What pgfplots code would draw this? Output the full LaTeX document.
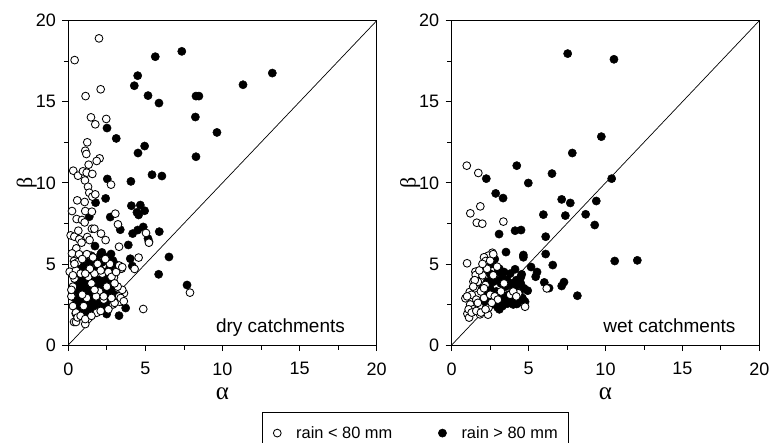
\documentclass[border=0pt]{standalone}
\usepackage{fontspec}
\setmainfont{Liberation Sans}
\newfontfamily\greekfont{Liberation Serif}
\usepackage{pgfplots}
\pgfplotsset{compat=1.18}
\pgfplotsset{panel/.style={
  scale only axis, width=308.4bp, height=324.3bp,
  anchor=south west,
  xmin=0,xmax=20,ymin=0,ymax=20,
  xtick={0,5,...,20}, ytick={0,5,...,20},
  minor tick num=1,
  tick align=outside,
  xtick pos=bottom, ytick pos=left,
  major tick length=6bp, minor tick length=4.5bp,
  every tick/.style={black, line width=0.8bp},
  axis line style={black, line width=0.9bp},
  tick label style={font=\fontsize{18bp}{20bp}\selectfont},
  xticklabel style={yshift=-8bp},
  yticklabel style={xshift=-3bp},
  /pgf/number format/assume math mode=true,
  xlabel={\greekfont α}, ylabel={\greekfont β},
  xlabel style={font=\fontsize{25bp}{26bp}\selectfont, at={(axis description cs:0.5,-0.15)}, anchor=center},
  ylabel style={font=\fontsize{22bp}{24bp}\selectfont, at={(axis description cs:-0.135,0.5)}, anchor=center},
  clip=false,
  legend image code/.code={\draw[##1] plot coordinates {(0bp,0bp)};},
}}
\tikzset{
  openmk/.style={only marks, mark=*, mark size=3.9bp, mark options={fill=white, draw=black, line width=0.85bp}},
  fullmk/.style={only marks, mark=*, mark size=4.1bp, mark options={fill=black, draw=black, line width=0.5bp}},
}
\begin{document}
\begin{tikzpicture}
\useasboundingbox (0,0) rectangle (769bp,443bp);
% ---------------- dry catchments ----------------
\begin{axis}[panel, at={(68.3bp,98bp)},
  legend columns=2,
  legend cell align=left,
  legend style={at={(0.628,-0.2066)}, anchor=north west, draw=black, line width=0.8bp,
    font=\fontsize{16.4bp}{18bp}\selectfont, inner xsep=11bp, inner ysep=14bp,
    nodes={inner sep=0pt},
    /tikz/every odd column/.append style={column sep=15bp},
    /tikz/every even column/.append style={column sep=46bp}},
]
\addplot[black, line width=0.7bp, forget plot] coordinates {(0,0) (20,20)};
\addplot[fullmk, forget plot] coordinates {
(5.64,17.78)(7.36,18.11)(13.23,16.77)(4.50,16.61)(4.28,15.99)(11.33,16.05)(5.17,15.38)
(5.88,14.92)(8.28,15.35)(8.47,15.35)(8.24,14.06)(2.51,13.38)(3.11,12.74)(4.95,12.27)
(4.52,11.84)(9.64,13.11)(8.28,11.61)(5.43,10.50)(6.07,10.42)(2.53,10.24)(4.06,10.09)
(2.42,9.04)(1.77,8.78)(4.09,8.59)(4.67,8.63)(4.45,8.18)(4.95,8.28)(4.56,8.02)(2.72,7.89)
(1.36,7.91)(3.37,7.11)(4.17,6.87)(4.50,7.09)(4.86,7.28)(5.90,6.99)(5.17,6.56)(5.23,6.37)
(3.89,6.17)(1.73,6.10)(2.18,5.71)(2.77,5.61)(4.02,5.32)(6.53,5.43)(4.15,4.87)(5.86,4.36)
(7.70,3.70)(2.49,1.91)(3.29,1.81)(3.72,2.28)
(0.6,2.2)(0.7,2.6)(0.8,3.0)(0.9,2.2)(1.0,2.8)(1.1,3.4)(1.2,2.5)(1.3,3.1)(1.4,2.2)(1.5,2.9)
(1.6,3.6)(1.7,2.4)(1.8,3.2)(1.9,2.7)(2.0,3.9)(2.1,3.0)(2.2,2.5)(2.3,3.5)(2.5,2.8)(2.6,4.0)
(2.8,3.3)(2.9,3.7)(3.0,3.1)(3.1,2.9)(0.5,3.4)(0.6,3.9)(0.7,4.3)(0.8,3.6)(0.9,4.7)(1.0,4.1)
(1.1,4.8)(1.2,3.9)(1.3,4.5)(1.4,5.0)(1.5,4.2)(1.6,5.2)(1.7,4.6)(1.8,5.3)(1.9,4.0)(2.0,4.9)
(2.2,5.1)(2.4,4.5)(2.5,5.4)(2.7,4.8)(2.9,5.2)(3.0,4.4)(3.2,4.9)(3.4,4.7)(1.0,2.0)(1.3,1.9)
(1.6,2.0)(0.4,2.9)(0.5,2.5)(1.2,3.6)(1.4,3.4)(1.6,2.7)(1.8,2.2)(2.0,2.1)(2.4,2.3)(2.7,2.6)
(1.1,5.3)(0.8,5.0)(1.5,5.5)(2.1,5.6)(2.3,4.1)(2.6,3.6)(0.7,3.3)(0.9,3.8)(1.7,3.9)(1.9,3.5)
(2.2,3.7)(2.4,3.2)
};
\addplot[openmk] coordinates {
(1.99,18.91)(0.41,17.57)(2.10,15.77)(1.12,15.35)(1.47,14.04)(1.75,13.61)(2.46,13.94)
(1.23,12.50)(1.10,11.98)(1.17,11.78)(2.03,11.51)(1.84,11.35)(1.32,11.12)(0.32,10.75)
(0.63,10.44)(0.95,10.71)(1.19,10.63)(1.56,10.55)(1.08,10.15)(1.28,9.76)(2.77,9.89)
(1.36,9.39)(1.56,9.15)(1.75,9.29)(0.58,8.92)(1.06,8.82)(0.24,8.26)(1.10,8.26)(1.53,8.22)
(3.05,8.10)(0.54,7.77)(0.89,7.71)(1.06,7.56)(3.22,7.44)(1.53,7.17)(1.69,7.17)(0.15,6.76)
(0.39,6.68)(0.65,7.05)(0.71,6.52)(1.23,6.66)(1.38,6.47)(2.12,6.87)(2.42,6.47)(0.86,6.31)
(3.29,6.06)(0.52,5.96)(5.04,6.91)(5.23,6.31)(0.24,5.65)(0.84,5.49)(1.30,5.55)(4.56,5.39)
(0.37,5.18)(0.09,4.52)(3.46,4.71)(4.30,4.69)(3.61,3.19)(3.50,2.67)(4.86,2.22)(7.89,3.23)
(1.10,1.29)(0.37,1.42)(0.50,1.42)(0.48,1.95)(1.84,1.99)(2.96,4.17)(3.33,2.67)
(0.2,3.0)(0.3,2.4)(0.3,3.6)(0.4,4.1)(0.5,4.6)(0.6,5.1)(0.7,5.6)(0.5,2.0)(0.6,1.7)(0.8,1.8)
(1.0,2.4)(1.3,4.2)(1.7,4.4)(1.9,5.0)(2.2,4.4)(2.3,2.8)
(2.6,4.5)(2.8,4.2)(2.9,2.5)(3.1,4.5)(3.3,3.0)(3.4,2.9)(3.5,3.4)(3.6,2.7)(3.3,4.9)
(3.5,4.8)(2.7,5.0)(2.4,5.3)(1.2,5.6)(0.4,5.0)(0.3,4.3)(0.2,3.4)(1.1,1.6)
(1.5,1.8)(2.1,2.1)(2.6,2.2)(3.0,2.6)(0.8,4.4)(2.8,2.9)(3.2,3.6)
(1.5,3.8)(1.2,2.9)(2.0,3.3)(2.5,3.6)(3.0,3.8)(1.8,3.0)(2.3,3.0)(1.4,4.7)(0.9,5.3)(1.6,5.4)
(1.1,4.4)(2.1,4.6)(0.9,3.1)(1.7,3.4)
};
\addlegendentry{rain < 80 mm}
\addlegendimage{fullmk}
\addlegendentry{rain > 80 mm}
\node[anchor=base east, font=\fontsize{19bp}{20bp}\selectfont, inner sep=0pt] at (axis cs:17.95,0.8) {dry catchments};
\end{axis}
% ---------------- wet catchments ----------------
\begin{axis}[panel, at={(451.7bp,98bp)}, width=307.6bp]
\addplot[black, line width=0.7bp] coordinates {(0,0) (20,20)};
\addplot[fullmk] coordinates {
(7.54,17.97)(10.55,17.62)(9.73,12.85)(7.84,11.84)(4.23,11.06)(6.52,10.57)(2.25,10.26)
(4.98,9.99)(10.40,10.26)(2.86,9.35)(3.34,9.06)(7.15,8.98)(7.71,8.76)(9.40,8.88)(5.96,8.04)
(7.39,7.98)(8.71,8.06)(9.30,7.40)(4.51,7.09)(4.12,7.05)(3.08,6.84)(6.11,6.68)(3.53,5.73)
(4.66,5.55)(4.66,5.41)(6.11,5.61)(10.60,5.18)(12.07,5.22)(5.16,4.81)(6.57,4.93)(5.55,4.50)
(5.46,4.21)(6.02,3.86)(6.33,3.51)(7.30,3.88)(7.15,3.64)(8.17,3.04)(4.94,3.35)(4.77,2.67)
(4.23,2.53)(3.62,2.55)(3.10,2.20)(4.12,4.67)(4.55,4.36)(4.49,3.80)
(2.2,3.0)(2.4,2.6)(2.5,3.5)(2.6,4.1)(2.7,2.8)(2.8,5.3)(2.9,3.3)(3.0,4.5)(3.1,2.5)(3.2,3.8)
(3.3,4.2)(3.4,2.9)(3.5,3.6)(3.6,4.0)(3.7,3.1)(3.8,4.4)(3.9,2.7)(4.0,3.5)(4.1,3.0)(4.2,4.0)
(4.3,2.6)(4.4,3.2)(4.5,4.2)(4.6,2.9)(4.7,3.5)(3.0,2.3)(3.3,2.4)(3.6,2.8)(2.3,3.9)(2.5,4.4)
(2.7,3.9)(2.9,4.0)(3.1,3.2)(3.4,4.5)(3.9,3.8)(4.3,3.7)(2.1,2.6)(2.4,3.3)(2.8,2.5)(3.2,2.8)
(3.5,3.0)(4.0,2.5)(2.6,5.0)(3.1,4.7)(2.0,3.5)
};
\addplot[openmk] coordinates {
(0.98,11.06)(1.73,10.61)(1.21,8.12)(1.86,8.55)(1.63,7.54)(1.99,7.48)(3.36,7.61)(1.00,5.04)
(0.89,2.88)(1.02,1.93)(1.13,1.69)(1.84,1.89)(2.36,1.87)(4.77,2.36)(4.33,3.19)(6.18,3.49)
(2.64,5.69)(2.38,5.51)(2.10,5.41)(2.21,5.18)(2.95,4.83)(1.54,4.52)(1.56,4.32)(1.41,3.91)(1.17,3.27)
(1.2,2.5)(1.3,3.1)(1.4,2.2)(1.5,3.5)(1.6,2.8)(1.7,3.9)(1.8,2.4)(1.9,3.3)(2.0,4.3)(2.1,2.9)
(2.2,3.7)(2.3,4.7)(2.4,2.3)(2.5,3.1)(2.7,4.3)(2.8,3.0)(3.0,2.8)
(3.2,3.3)(3.4,3.8)(3.8,3.1)(4.0,3.3)(1.1,2.2)(1.3,2.0)(1.6,2.1)(1.9,2.0)
(2.2,2.2)(1.5,4.0)(1.8,4.6)(2.0,5.0)(2.5,5.2)(2.7,5.6)(1.4,3.6)(2.1,3.5)
(1.7,2.6)(2.6,2.6)(4.2,3.0)(1.0,3.0)
};
\node[anchor=base east, font=\fontsize{19bp}{20bp}\selectfont, inner sep=0pt] at (axis cs:18.46,0.8) {wet catchments};
\end{axis}
\end{tikzpicture}
\end{document}
